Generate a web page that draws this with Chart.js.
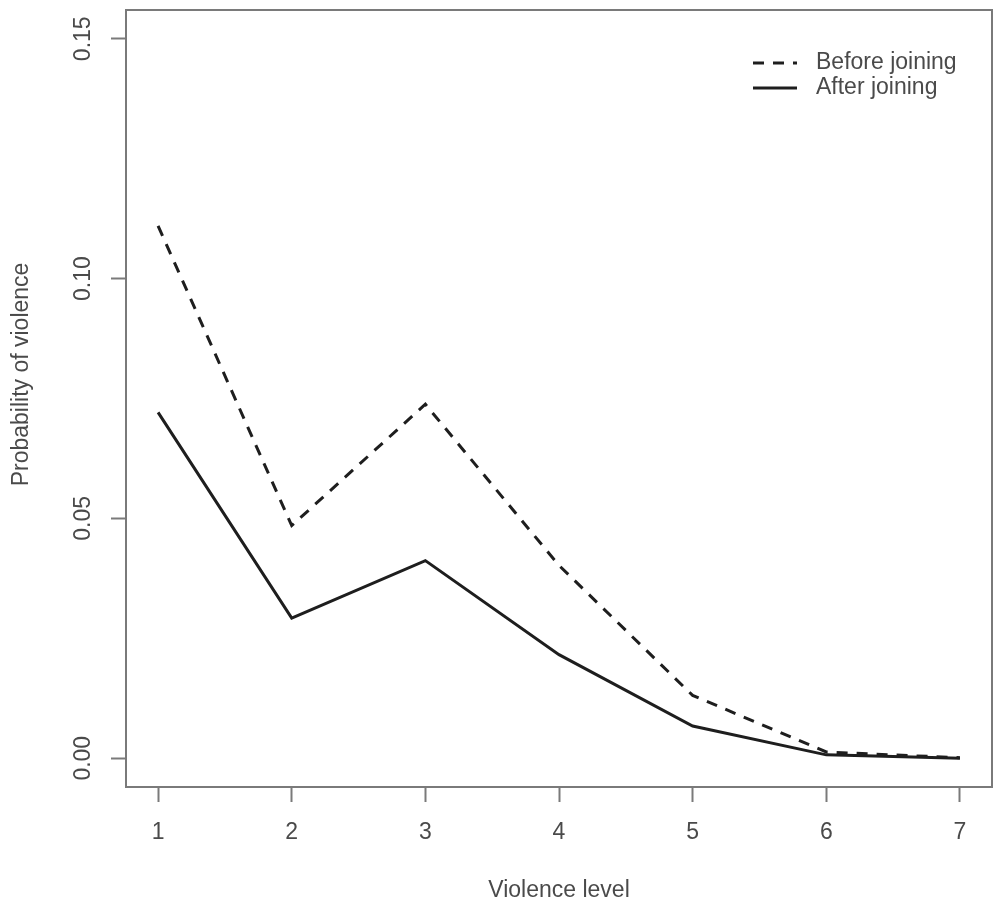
<!DOCTYPE html>
<html>
<head>
<meta charset="utf-8">
<title>Probability of violence</title>
<script src="https://cdn.jsdelivr.net/npm/chart.js@4.4.1/dist/chart.umd.min.js"></script>
<style>
  body { margin: 0; background: #fff; }
</style>
</head>
<body>
<canvas id="chart" width="1000" height="910"></canvas>
<script>
// data
const levels = [1, 2, 3, 4, 5, 6, 7];
const beforeJoining = [0.1110, 0.0485, 0.0738, 0.0402, 0.0131, 0.0013, 0.0001];
const afterJoining = [0.0721, 0.0292, 0.0412, 0.0216, 0.0067, 0.0007, 0.0000];
const yTicks = [0, 0.05, 0.10, 0.15];

const textColor = '#4a4a4a';
const boxColor = '#7a7a7a';
const lineColor = '#1e1e1e';
const fontFamily = '"Liberation Sans", Arial, Helvetica, sans-serif';

function toPoints(values) {
    return levels.map((lv, i) => ({ x: lv, y: values[i] }));
}

// box round the plot region (R's bty = "o")
const plotBox = {
    id: 'plotBox',
    afterDraw(chart) {
        const { ctx, chartArea: a } = chart;
        ctx.save();
        ctx.strokeStyle = boxColor;
        ctx.lineWidth = 2;
        ctx.strokeRect(a.left, a.top, a.right - a.left, a.bottom - a.top);
        ctx.restore();
    }
};

// legend inside the plot, top right, no frame
const insideLegend = {
    id: 'insideLegend',
    afterDraw(chart) {
        const { ctx, chartArea: a } = chart;
        const x0 = a.right - 239;
        ctx.save();
        ctx.font = '23px ' + fontFamily;
        ctx.textBaseline = 'middle';
        ctx.textAlign = 'left';
        chart.data.datasets.forEach((ds, i) => {
            const y = a.top + 53 + i * 25;
            ctx.strokeStyle = ds.borderColor;
            ctx.lineWidth = ds.borderWidth;
            ctx.setLineDash(ds.borderDash || []);
            ctx.beginPath();
            ctx.moveTo(x0, y);
            ctx.lineTo(x0 + 44, y);
            ctx.stroke();
            ctx.setLineDash([]);
            ctx.fillStyle = textColor;
            ctx.fillText(ds.label, x0 + 63, y);
        });
        ctx.restore();
    }
};

// y axis title, placed as in the figure
const yTitle = {
    id: 'yTitle',
    afterDraw(chart) {
        const { ctx, chartArea: a } = chart;
        ctx.save();
        ctx.translate(22, (a.top + a.bottom) / 2 - 24);
        ctx.rotate(-Math.PI / 2);
        ctx.font = '23px ' + fontFamily;
        ctx.fillStyle = textColor;
        ctx.textAlign = 'center';
        ctx.textBaseline = 'middle';
        ctx.fillText('Probability of violence', 0, 0);
        ctx.restore();
    }
};

new Chart(document.getElementById('chart'), {
    type: 'line',
    data: {
        datasets: [{
            label: 'Before joining',
            data: toPoints(beforeJoining),
            borderColor: lineColor,
            borderWidth: 3,
            borderDash: [11, 9],
            pointRadius: 0,
            tension: 0,
            fill: false
        }, {
            label: 'After joining',
            data: toPoints(afterJoining),
            borderColor: lineColor,
            borderWidth: 3,
            pointRadius: 0,
            tension: 0,
            fill: false
        }]
    },
    options: {
        responsive: false,
        animation: false,
        layout: { padding: { left: 0, top: 10, right: 8, bottom: 0 } },
        plugins: {
            legend: { display: false },
            tooltip: { enabled: false }
        },
        scales: {
            x: {
                type: 'linear',
                min: 0.76,
                max: 7.24,
                afterBuildTicks: (axis) => { axis.ticks = levels.map(v => ({ value: v })); },
                afterFit: (axis) => {
                    axis.height = 123;
                    axis.paddingLeft = 0;
                    axis.paddingRight = 0;
                },
                grid: {
                    drawOnChartArea: false,
                    tickLength: 15,
                    tickColor: boxColor,
                    tickWidth: 2
                },
                border: { display: false },
                ticks: {
                    padding: 17,
                    color: textColor,
                    font: { family: fontFamily, size: 23 },
                    maxRotation: 0,
                    callback: (v) => String(v)
                },
                title: {
                    display: true,
                    text: 'Violence level',
                    color: textColor,
                    font: { family: fontFamily, size: 23 },
                    padding: { top: 0, bottom: 6 }
                }
            },
            y: {
                min: -0.006,
                max: 0.156,
                afterBuildTicks: (axis) => { axis.ticks = yTicks.map(v => ({ value: v })); },
                afterFit: (axis) => {
                    axis.width = 126;
                    axis.paddingTop = 0;
                    axis.paddingBottom = 0;
                },
                grid: {
                    drawOnChartArea: false,
                    tickLength: 15,
                    tickColor: boxColor,
                    tickWidth: 2
                },
                border: { display: false },
                ticks: {
                    padding: 5,
                    crossAlign: 'center',
                    minRotation: 90,
                    maxRotation: 90,
                    color: textColor,
                    font: { family: fontFamily, size: 23 },
                    callback: (v) => v.toFixed(2)
                }
            }
        }
    },
    plugins: [plotBox, insideLegend, yTitle]
});
</script>
</body>
</html>
